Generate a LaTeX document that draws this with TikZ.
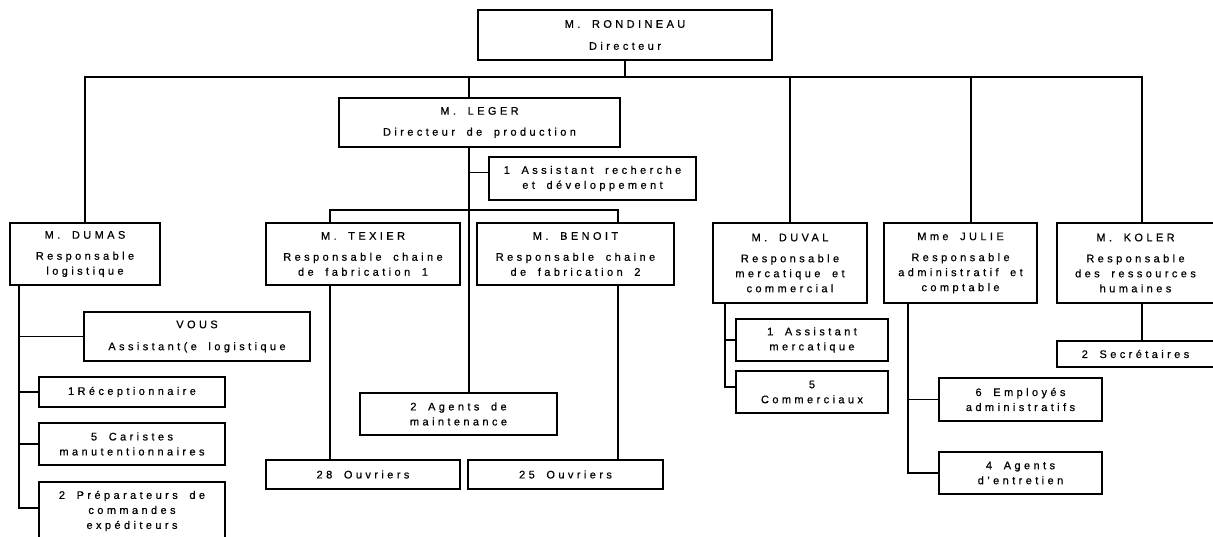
\documentclass[tikz,border=0pt]{standalone}
\usepackage{fontspec}
\setmainfont[LetterSpace=31,WordSpace=1.8,FakeBold=0.6]{Liberation Sans}

\begin{document}
\begin{tikzpicture}[
  x=1pt, y=-1pt,
  box/.style={rectangle, draw, line width=1.9pt, inner sep=0pt, align=center, font=\fontsize{11}{15}\selectfont},
  line width=1.9pt
]
\useasboundingbox (0,0) rectangle (1213,537);
\clip (0,0) rectangle (1213,537);

% top levels
\node[box, minimum width=294pt, minimum height=50pt] (dir) at (625,35) {M. RONDINEAU\\[7pt]Directeur};
\node[box, minimum width=281pt, minimum height=49pt] (prod) at (479.5,122.5) {M. LEGER\\[6pt]Directeur de production};
\node[box, minimum width=207pt, minimum height=43pt] (ass_rd) at (592.5,178.5) {1 Assistant recherche\\et développement};

\node[box, minimum width=150pt, minimum height=62pt] (dumas) at (85,254) {M. DUMAS\\[6pt]Responsable\\logistique};
\node[box, minimum width=194pt, minimum height=62pt] (texier) at (363,254) {M. TEXIER\\[6pt]Responsable chaine\\de fabrication 1};
\node[box, minimum width=197pt, minimum height=62pt] (benoit) at (575.5,254) {M. BENOIT\\[6pt]Responsable chaine\\de fabrication 2};
\node[box, minimum width=154pt, minimum height=80pt] (duval) at (790,263) {M. DUVAL\\[6pt]Responsable\\mercatique et\\commercial};
\node[box, minimum width=153pt, minimum height=80pt] (julie) at (960.5,263) {Mme JULIE\\[6pt]Responsable\\administratif et\\comptable};
\node[box, minimum width=157pt, minimum height=80pt] (koler) at (1135.5,263) {M. KOLER\\[6pt]Responsable\\des ressources\\humaines};

% staff
\node[box, minimum width=226pt, minimum height=49pt] (vous) at (197,336.5) {VOUS\\[7pt]Assistant(e logistique};
\node[box, minimum width=186pt, minimum height=30pt] (recep) at (132,392) {1Réceptionnaire};
\node[box, minimum width=186pt, minimum height=42pt] (caristes) at (132,444) {5 Caristes\\manutentionnaires};
\node[box, minimum width=186pt, minimum height=58pt] (prep) at (132,511) {2 Préparateurs de\\commandes\\expéditeurs};
\node[box, minimum width=197pt, minimum height=42pt] (maint) at (458.5,414) {2 Agents de\\maintenance};
\node[box, minimum width=194pt, minimum height=29pt] (ouv_28) at (363,474.5) {28 Ouvriers};
\node[box, minimum width=195pt, minimum height=29pt] (ouv_25) at (565.5,474.5) {25 Ouvriers};
\node[box, minimum width=152pt, minimum height=42pt] (as_merc) at (812,340) {1 Assistant\\mercatique};
\node[box, minimum width=152pt, minimum height=42pt] (comm) at (812,392) {5\\Commerciaux};
\node[box, minimum width=163pt, minimum height=43pt] (empl) at (1020.5,399.5) {6 Employés\\administratifs};
\node[box, minimum width=163pt, minimum height=42pt] (entr) at (1020.5,473) {4 Agents\\d'entretien};
\node[box, minimum width=157pt, minimum height=26pt] (secr) at (1135.5,354) {2 Secrétaires};

% axes of the connectors
\coordinate (bus) at (0,77);
\coordinate (fork) at (0,210);
\coordinate (prod_ax) at (469,0);
\coordinate (tex_ax) at (330,0);
\coordinate (ben_ax) at (618,0);
\coordinate (jul_ax) at (971,0);
\coordinate (kol_ax) at (1142,0);
\coordinate (dum_ax) at (19,0);
\coordinate (duv_ax) at (725,0);
\coordinate (jul_sp) at (908,0);
\coordinate (rd_in) at ([yshift=6pt]ass_rd.west);

\draw (dumas.north) |- (bus -| kol_ax) -- (koler.north -| kol_ax);
\draw (dir.south) -- (dir.south |- bus);
\draw (bus -| prod_ax) -- (prod.north -| prod_ax);
\draw (bus -| duval.north) -- (duval.north);
\draw (bus -| jul_ax) -- (julie.north -| jul_ax);
\draw (prod.south -| prod_ax) -- (maint.north -| prod_ax);
\draw (prod_ax |- rd_in) -- (rd_in);
\draw (texier.north -| tex_ax) |- (fork -| ben_ax) -- (benoit.north -| ben_ax);
\draw (texier.south -| tex_ax) -- (ouv_28.north -| tex_ax);
\draw (benoit.south -| ben_ax) -- (ouv_25.north -| ben_ax);
\draw (dumas.south -| dum_ax) |- ([yshift=3pt]prep.west);
\draw (dum_ax |- vous.west) -- (vous.west);
\draw (dum_ax |- recep.west) -- (recep.west);
\draw (dum_ax |- caristes.west) -- (caristes.west);
\draw (duval.south -| duv_ax) |- ([yshift=5pt]comm.west);
\draw (duv_ax |- as_merc.west) -- (as_merc.west);
\draw (julie.south -| jul_sp) |- (entr.west);
\draw (jul_sp |- empl.west) -- (empl.west);
\draw (koler.south -| kol_ax) -- (secr.north -| kol_ax);
\end{tikzpicture}
\end{document}
